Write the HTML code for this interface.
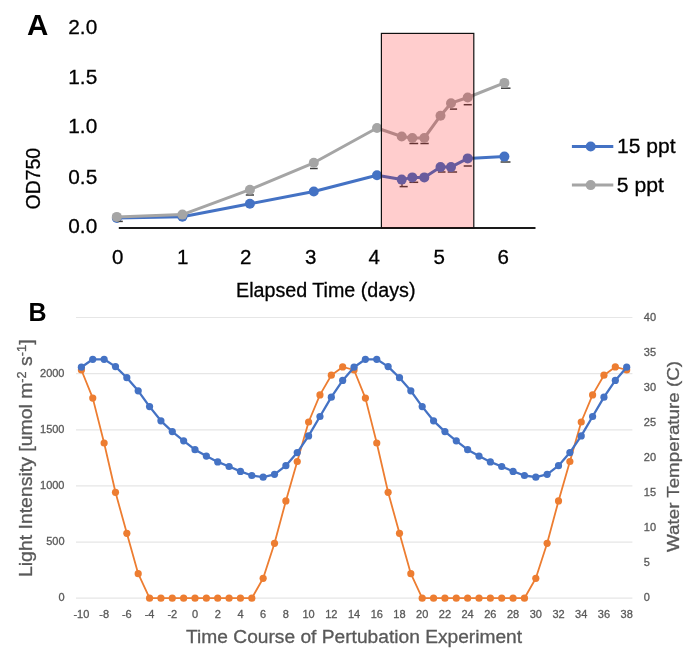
<!DOCTYPE html>
<html><head><meta charset="utf-8"><style>
html,body{margin:0;padding:0;background:#fff;width:685px;height:658px;overflow:hidden;}
svg{display:block;will-change:transform;font-family:"Liberation Sans", sans-serif;}
</style></head><body>
<svg width="685" height="658" viewBox="0 0 685 658" font-family='"Liberation Sans", sans-serif'><text x="27.0" y="34.6" font-size="29.5" text-anchor="start" fill="#000" font-weight="bold">A</text>
<text x="68.3" y="33.9" font-size="20.8" text-anchor="start" fill="#000" font-weight="normal" stroke="#000" stroke-width="0.3">2.0</text>
<text x="68.3" y="83.8" font-size="20.8" text-anchor="start" fill="#000" font-weight="normal" stroke="#000" stroke-width="0.3">1.5</text>
<text x="68.3" y="133.0" font-size="20.8" text-anchor="start" fill="#000" font-weight="normal" stroke="#000" stroke-width="0.3">1.0</text>
<text x="68.3" y="184.3" font-size="20.8" text-anchor="start" fill="#000" font-weight="normal" stroke="#000" stroke-width="0.3">0.5</text>
<text x="68.3" y="233.2" font-size="20.8" text-anchor="start" fill="#000" font-weight="normal" stroke="#000" stroke-width="0.3">0.0</text>
<text transform="translate(40,178.7) rotate(-90)" x="0" y="0" font-size="20" text-anchor="middle" stroke="#000" stroke-width="0.3" textLength="61.5" lengthAdjust="spacingAndGlyphs">OD750</text>
<text x="117.8" y="263.8" font-size="20.5" text-anchor="middle" fill="#000" font-weight="normal" stroke="#000" stroke-width="0.3">0</text>
<text x="182.6" y="263.8" font-size="20.5" text-anchor="middle" fill="#000" font-weight="normal" stroke="#000" stroke-width="0.3">1</text>
<text x="245.8" y="263.8" font-size="20.5" text-anchor="middle" fill="#000" font-weight="normal" stroke="#000" stroke-width="0.3">2</text>
<text x="310.7" y="263.8" font-size="20.5" text-anchor="middle" fill="#000" font-weight="normal" stroke="#000" stroke-width="0.3">3</text>
<text x="374.1" y="263.8" font-size="20.5" text-anchor="middle" fill="#000" font-weight="normal" stroke="#000" stroke-width="0.3">4</text>
<text x="439.2" y="263.8" font-size="20.5" text-anchor="middle" fill="#000" font-weight="normal" stroke="#000" stroke-width="0.3">5</text>
<text x="503.2" y="263.8" font-size="20.5" text-anchor="middle" fill="#000" font-weight="normal" stroke="#000" stroke-width="0.3">6</text>
<text x="236.0" y="296.9" font-size="20" text-anchor="start" fill="#000" font-weight="normal" textLength="179.5" lengthAdjust="spacingAndGlyphs" stroke="#000" stroke-width="0.3">Elapsed Time (days)</text>
<line x1="118.8" y1="227.9" x2="535.5" y2="227.9" stroke="#1a1a1a" stroke-width="2"/>
<line x1="399.6" y1="186.6" x2="407.7" y2="186.6" stroke="#404040" stroke-width="1.5"/>
<line x1="409.4" y1="182.3" x2="418.2" y2="182.3" stroke="#404040" stroke-width="1.5"/>
<line x1="437.9" y1="172" x2="445.5" y2="172" stroke="#404040" stroke-width="1.5"/>
<line x1="447.7" y1="172" x2="457.1" y2="172" stroke="#404040" stroke-width="1.5"/>
<line x1="463.7" y1="166" x2="471.8" y2="166" stroke="#404040" stroke-width="1.5"/>
<line x1="500.6" y1="162" x2="510.5" y2="162" stroke="#404040" stroke-width="1.5"/>
<line x1="402" y1="180" x2="402" y2="186.6" stroke="#404040" stroke-width="1.3"/>
<polyline points="116.8,218.0 182.4,216.8 249.9,203.7 313.8,191.5 377,175.2 401.7,179.6 412.3,177.4 424.3,177.4 440.5,167.1 451,167.1 467.7,158.4 504.4,156.6" fill="none" stroke="#4472C4" stroke-width="3" stroke-linejoin="round"/>
<circle cx="116.8" cy="218.0" r="5" fill="#4472C4"/>
<circle cx="182.4" cy="216.8" r="5" fill="#4472C4"/>
<circle cx="249.9" cy="203.7" r="5" fill="#4472C4"/>
<circle cx="313.8" cy="191.5" r="5" fill="#4472C4"/>
<circle cx="377" cy="175.2" r="5" fill="#4472C4"/>
<circle cx="401.7" cy="179.6" r="5" fill="#4472C4"/>
<circle cx="412.3" cy="177.4" r="5" fill="#4472C4"/>
<circle cx="424.3" cy="177.4" r="5" fill="#4472C4"/>
<circle cx="440.5" cy="167.1" r="5" fill="#4472C4"/>
<circle cx="451" cy="167.1" r="5" fill="#4472C4"/>
<circle cx="467.7" cy="158.4" r="5" fill="#4472C4"/>
<circle cx="504.4" cy="156.6" r="5" fill="#4472C4"/>
<line x1="116.9" y1="221.4" x2="122.8" y2="221.4" stroke="#404040" stroke-width="1.5"/>
<line x1="245.8" y1="195" x2="254" y2="195" stroke="#404040" stroke-width="1.5"/>
<line x1="310" y1="168.5" x2="317.7" y2="168.5" stroke="#404040" stroke-width="1.5"/>
<line x1="409.4" y1="143.5" x2="418.2" y2="143.5" stroke="#404040" stroke-width="1.5"/>
<line x1="420.4" y1="143.5" x2="428.7" y2="143.5" stroke="#404040" stroke-width="1.5"/>
<line x1="449.9" y1="109.1" x2="457.1" y2="109.1" stroke="#404040" stroke-width="1.5"/>
<line x1="463.7" y1="104.7" x2="471.8" y2="104.7" stroke="#404040" stroke-width="1.5"/>
<line x1="501" y1="88.2" x2="510.5" y2="88.2" stroke="#404040" stroke-width="1.5"/>
<polyline points="116.8,216.9 182.4,214.6 249.9,189.7 313.8,162.8 377,128 401.7,136.5 412.3,138 424.3,138 440.5,115.7 451,103.2 467.7,97.5 504.4,82.9" fill="none" stroke="#A5A5A5" stroke-width="3" stroke-linejoin="round"/>
<circle cx="116.8" cy="216.9" r="5" fill="#A5A5A5"/>
<circle cx="182.4" cy="214.6" r="5" fill="#A5A5A5"/>
<circle cx="249.9" cy="189.7" r="5" fill="#A5A5A5"/>
<circle cx="313.8" cy="162.8" r="5" fill="#A5A5A5"/>
<circle cx="377" cy="128" r="5" fill="#A5A5A5"/>
<circle cx="401.7" cy="136.5" r="5" fill="#A5A5A5"/>
<circle cx="412.3" cy="138" r="5" fill="#A5A5A5"/>
<circle cx="424.3" cy="138" r="5" fill="#A5A5A5"/>
<circle cx="440.5" cy="115.7" r="5" fill="#A5A5A5"/>
<circle cx="451" cy="103.2" r="5" fill="#A5A5A5"/>
<circle cx="467.7" cy="97.5" r="5" fill="#A5A5A5"/>
<circle cx="504.4" cy="82.9" r="5" fill="#A5A5A5"/>
<rect x="381.4" y="33.4" width="92.4" height="194.5" fill="rgba(255,0,0,0.195)" stroke="#111" stroke-width="1.2"/>
<line x1="571.9" y1="146.5" x2="613.3" y2="146.5" stroke="#4472C4" stroke-width="3"/>
<circle cx="590.7" cy="146.5" r="5" fill="#4472C4"/>
<line x1="571.9" y1="185.1" x2="613.3" y2="185.1" stroke="#A5A5A5" stroke-width="3"/>
<circle cx="590.7" cy="185.1" r="5" fill="#A5A5A5"/>
<text x="617.0" y="153.4" font-size="20" text-anchor="start" fill="#000" font-weight="normal" textLength="58.5" lengthAdjust="spacingAndGlyphs" stroke="#000" stroke-width="0.3">15 ppt</text>
<text x="616.8" y="191.5" font-size="20" text-anchor="start" fill="#000" font-weight="normal" textLength="47" lengthAdjust="spacingAndGlyphs" stroke="#000" stroke-width="0.3">5 ppt</text>
<text x="28.6" y="321.2" font-size="25" text-anchor="start" fill="#000" font-weight="bold">B</text>
<line x1="76" y1="317.50" x2="632.4" y2="317.50" stroke="#e6e6e6" stroke-width="1.2"/>
<line x1="76" y1="373.64" x2="632.4" y2="373.64" stroke="#e6e6e6" stroke-width="1.2"/>
<line x1="76" y1="429.78" x2="632.4" y2="429.78" stroke="#e6e6e6" stroke-width="1.2"/>
<line x1="76" y1="485.92" x2="632.4" y2="485.92" stroke="#e6e6e6" stroke-width="1.2"/>
<line x1="76" y1="542.06" x2="632.4" y2="542.06" stroke="#e6e6e6" stroke-width="1.2"/>
<line x1="76" y1="598.20" x2="632.4" y2="598.20" stroke="#e6e6e6" stroke-width="1.2"/>
<text x="64.5" y="376.64" font-size="11" text-anchor="end" fill="#595959" font-weight="normal" stroke="#595959" stroke-width="0.3">2000</text>
<text x="64.5" y="432.78" font-size="11" text-anchor="end" fill="#595959" font-weight="normal" stroke="#595959" stroke-width="0.3">1500</text>
<text x="64.5" y="488.92" font-size="11" text-anchor="end" fill="#595959" font-weight="normal" stroke="#595959" stroke-width="0.3">1000</text>
<text x="64.5" y="545.06" font-size="11" text-anchor="end" fill="#595959" font-weight="normal" stroke="#595959" stroke-width="0.3">500</text>
<text x="64.5" y="601.2" font-size="11" text-anchor="end" fill="#595959" font-weight="normal" stroke="#595959" stroke-width="0.3">0</text>
<text x="643.8" y="320.6" font-size="11" text-anchor="start" fill="#595959" font-weight="normal" stroke="#595959" stroke-width="0.3">40</text>
<text x="643.8" y="355.69000000000005" font-size="11" text-anchor="start" fill="#595959" font-weight="normal" stroke="#595959" stroke-width="0.3">35</text>
<text x="643.8" y="390.78000000000003" font-size="11" text-anchor="start" fill="#595959" font-weight="normal" stroke="#595959" stroke-width="0.3">30</text>
<text x="643.8" y="425.87" font-size="11" text-anchor="start" fill="#595959" font-weight="normal" stroke="#595959" stroke-width="0.3">25</text>
<text x="643.8" y="460.96000000000004" font-size="11" text-anchor="start" fill="#595959" font-weight="normal" stroke="#595959" stroke-width="0.3">20</text>
<text x="643.8" y="496.05000000000007" font-size="11" text-anchor="start" fill="#595959" font-weight="normal" stroke="#595959" stroke-width="0.3">15</text>
<text x="643.8" y="531.14" font-size="11" text-anchor="start" fill="#595959" font-weight="normal" stroke="#595959" stroke-width="0.3">10</text>
<text x="643.8" y="566.23" font-size="11" text-anchor="start" fill="#595959" font-weight="normal" stroke="#595959" stroke-width="0.3">5</text>
<text x="643.8" y="601.32" font-size="11" text-anchor="start" fill="#595959" font-weight="normal" stroke="#595959" stroke-width="0.3">0</text>
<text x="81.4" y="617.5" font-size="11" text-anchor="middle" fill="#595959" font-weight="normal" stroke="#595959" stroke-width="0.3">-10</text>
<text x="104.12" y="617.5" font-size="11" text-anchor="middle" fill="#595959" font-weight="normal" stroke="#595959" stroke-width="0.3">-8</text>
<text x="126.84" y="617.5" font-size="11" text-anchor="middle" fill="#595959" font-weight="normal" stroke="#595959" stroke-width="0.3">-6</text>
<text x="149.56" y="617.5" font-size="11" text-anchor="middle" fill="#595959" font-weight="normal" stroke="#595959" stroke-width="0.3">-4</text>
<text x="172.28" y="617.5" font-size="11" text-anchor="middle" fill="#595959" font-weight="normal" stroke="#595959" stroke-width="0.3">-2</text>
<text x="195.0" y="617.5" font-size="11" text-anchor="middle" fill="#595959" font-weight="normal" stroke="#595959" stroke-width="0.3">0</text>
<text x="217.72" y="617.5" font-size="11" text-anchor="middle" fill="#595959" font-weight="normal" stroke="#595959" stroke-width="0.3">2</text>
<text x="240.44" y="617.5" font-size="11" text-anchor="middle" fill="#595959" font-weight="normal" stroke="#595959" stroke-width="0.3">4</text>
<text x="263.16" y="617.5" font-size="11" text-anchor="middle" fill="#595959" font-weight="normal" stroke="#595959" stroke-width="0.3">6</text>
<text x="285.88" y="617.5" font-size="11" text-anchor="middle" fill="#595959" font-weight="normal" stroke="#595959" stroke-width="0.3">8</text>
<text x="308.6" y="617.5" font-size="11" text-anchor="middle" fill="#595959" font-weight="normal" stroke="#595959" stroke-width="0.3">10</text>
<text x="331.32" y="617.5" font-size="11" text-anchor="middle" fill="#595959" font-weight="normal" stroke="#595959" stroke-width="0.3">12</text>
<text x="354.04" y="617.5" font-size="11" text-anchor="middle" fill="#595959" font-weight="normal" stroke="#595959" stroke-width="0.3">14</text>
<text x="376.76" y="617.5" font-size="11" text-anchor="middle" fill="#595959" font-weight="normal" stroke="#595959" stroke-width="0.3">16</text>
<text x="399.48" y="617.5" font-size="11" text-anchor="middle" fill="#595959" font-weight="normal" stroke="#595959" stroke-width="0.3">18</text>
<text x="422.2" y="617.5" font-size="11" text-anchor="middle" fill="#595959" font-weight="normal" stroke="#595959" stroke-width="0.3">20</text>
<text x="444.92" y="617.5" font-size="11" text-anchor="middle" fill="#595959" font-weight="normal" stroke="#595959" stroke-width="0.3">22</text>
<text x="467.64" y="617.5" font-size="11" text-anchor="middle" fill="#595959" font-weight="normal" stroke="#595959" stroke-width="0.3">24</text>
<text x="490.36" y="617.5" font-size="11" text-anchor="middle" fill="#595959" font-weight="normal" stroke="#595959" stroke-width="0.3">26</text>
<text x="513.08" y="617.5" font-size="11" text-anchor="middle" fill="#595959" font-weight="normal" stroke="#595959" stroke-width="0.3">28</text>
<text x="535.8" y="617.5" font-size="11" text-anchor="middle" fill="#595959" font-weight="normal" stroke="#595959" stroke-width="0.3">30</text>
<text x="558.52" y="617.5" font-size="11" text-anchor="middle" fill="#595959" font-weight="normal" stroke="#595959" stroke-width="0.3">32</text>
<text x="581.24" y="617.5" font-size="11" text-anchor="middle" fill="#595959" font-weight="normal" stroke="#595959" stroke-width="0.3">34</text>
<text x="603.96" y="617.5" font-size="11" text-anchor="middle" fill="#595959" font-weight="normal" stroke="#595959" stroke-width="0.3">36</text>
<text x="626.68" y="617.5" font-size="11" text-anchor="middle" fill="#595959" font-weight="normal" stroke="#595959" stroke-width="0.3">38</text>
<text x="186.1" y="643.1" font-size="18" text-anchor="start" fill="#595959" font-weight="normal" textLength="336" lengthAdjust="spacingAndGlyphs" stroke="#595959" stroke-width="0.3">Time Course of Pertubation Experiment</text>
<text transform="translate(32.3,577) rotate(-90)" x="0" y="0" font-size="19" fill="#595959" stroke="#595959" stroke-width="0.3" textLength="237.6" lengthAdjust="spacingAndGlyphs">Light Intensity [umol m<tspan dy="-6.3" font-size="12.5">-2</tspan><tspan dy="6.3"> s</tspan><tspan dy="-6.3" font-size="12.5">-1</tspan><tspan dy="6.3">]</tspan></text>
<text transform="translate(679.2,552) rotate(-90)" x="0" y="0" font-size="16" fill="#595959" stroke="#595959" stroke-width="0.3" textLength="191" lengthAdjust="spacingAndGlyphs">Water Temperature (C)</text>
<polyline points="81.4,370 92.76,398.1 104.12,443 115.48,492.3 126.84,533.3 138.2,573.7 149.56,598.2 160.92,598.2 172.28,598.2 183.64,598.2 195.0,598.2 206.36,598.2 217.72,598.2 229.08,598.2 240.44,598.2 251.8,598.2 263.16,578.3 274.52,543.3 285.88,500.9 297.24,461.5 308.6,422 319.96,394.9 331.32,375.2 342.68,366.9 354.04,370 365.4,398.1 376.76,443 388.12,492.3 399.48,533.3 410.84,573.7 422.2,598.2 433.56,598.2 444.92,598.2 456.28,598.2 467.64,598.2 479.0,598.2 490.36,598.2 501.72,598.2 513.08,598.2 524.44,598.2 535.8,578.3 547.16,543.3 558.52,500.9 569.88,461.5 581.24,422 592.6,394.9 603.96,375.2 615.32,366.9 626.68,370" fill="none" stroke="#ED7D31" stroke-width="1.8" stroke-linejoin="round"/>
<circle cx="81.4" cy="370" r="3.6" fill="#ED7D31"/>
<circle cx="92.76" cy="398.1" r="3.6" fill="#ED7D31"/>
<circle cx="104.12" cy="443" r="3.6" fill="#ED7D31"/>
<circle cx="115.48" cy="492.3" r="3.6" fill="#ED7D31"/>
<circle cx="126.84" cy="533.3" r="3.6" fill="#ED7D31"/>
<circle cx="138.2" cy="573.7" r="3.6" fill="#ED7D31"/>
<circle cx="149.56" cy="598.2" r="3.6" fill="#ED7D31"/>
<circle cx="160.92" cy="598.2" r="3.6" fill="#ED7D31"/>
<circle cx="172.28" cy="598.2" r="3.6" fill="#ED7D31"/>
<circle cx="183.64" cy="598.2" r="3.6" fill="#ED7D31"/>
<circle cx="195.0" cy="598.2" r="3.6" fill="#ED7D31"/>
<circle cx="206.36" cy="598.2" r="3.6" fill="#ED7D31"/>
<circle cx="217.72" cy="598.2" r="3.6" fill="#ED7D31"/>
<circle cx="229.08" cy="598.2" r="3.6" fill="#ED7D31"/>
<circle cx="240.44" cy="598.2" r="3.6" fill="#ED7D31"/>
<circle cx="251.8" cy="598.2" r="3.6" fill="#ED7D31"/>
<circle cx="263.16" cy="578.3" r="3.6" fill="#ED7D31"/>
<circle cx="274.52" cy="543.3" r="3.6" fill="#ED7D31"/>
<circle cx="285.88" cy="500.9" r="3.6" fill="#ED7D31"/>
<circle cx="297.24" cy="461.5" r="3.6" fill="#ED7D31"/>
<circle cx="308.6" cy="422" r="3.6" fill="#ED7D31"/>
<circle cx="319.96" cy="394.9" r="3.6" fill="#ED7D31"/>
<circle cx="331.32" cy="375.2" r="3.6" fill="#ED7D31"/>
<circle cx="342.68" cy="366.9" r="3.6" fill="#ED7D31"/>
<circle cx="354.04" cy="370" r="3.6" fill="#ED7D31"/>
<circle cx="365.4" cy="398.1" r="3.6" fill="#ED7D31"/>
<circle cx="376.76" cy="443" r="3.6" fill="#ED7D31"/>
<circle cx="388.12" cy="492.3" r="3.6" fill="#ED7D31"/>
<circle cx="399.48" cy="533.3" r="3.6" fill="#ED7D31"/>
<circle cx="410.84" cy="573.7" r="3.6" fill="#ED7D31"/>
<circle cx="422.2" cy="598.2" r="3.6" fill="#ED7D31"/>
<circle cx="433.56" cy="598.2" r="3.6" fill="#ED7D31"/>
<circle cx="444.92" cy="598.2" r="3.6" fill="#ED7D31"/>
<circle cx="456.28" cy="598.2" r="3.6" fill="#ED7D31"/>
<circle cx="467.64" cy="598.2" r="3.6" fill="#ED7D31"/>
<circle cx="479.0" cy="598.2" r="3.6" fill="#ED7D31"/>
<circle cx="490.36" cy="598.2" r="3.6" fill="#ED7D31"/>
<circle cx="501.72" cy="598.2" r="3.6" fill="#ED7D31"/>
<circle cx="513.08" cy="598.2" r="3.6" fill="#ED7D31"/>
<circle cx="524.44" cy="598.2" r="3.6" fill="#ED7D31"/>
<circle cx="535.8" cy="578.3" r="3.6" fill="#ED7D31"/>
<circle cx="547.16" cy="543.3" r="3.6" fill="#ED7D31"/>
<circle cx="558.52" cy="500.9" r="3.6" fill="#ED7D31"/>
<circle cx="569.88" cy="461.5" r="3.6" fill="#ED7D31"/>
<circle cx="581.24" cy="422" r="3.6" fill="#ED7D31"/>
<circle cx="592.6" cy="394.9" r="3.6" fill="#ED7D31"/>
<circle cx="603.96" cy="375.2" r="3.6" fill="#ED7D31"/>
<circle cx="615.32" cy="366.9" r="3.6" fill="#ED7D31"/>
<circle cx="626.68" cy="370" r="3.6" fill="#ED7D31"/>
<polyline points="81.4,367.2 92.76,359.3 104.12,359.3 115.48,366.6 126.84,377.7 138.2,390.8 149.56,406.6 160.92,420.8 172.28,431.6 183.64,440.8 195.0,449.7 206.36,456.1 217.72,461.9 229.08,466.5 240.44,471.4 251.8,475.5 263.16,477.2 274.52,474.3 285.88,465.7 297.24,452.6 308.6,435.9 319.96,416.5 331.32,397.2 342.68,380.4 354.04,367.2 365.4,359.3 376.76,359.3 388.12,366.6 399.48,377.7 410.84,390.8 422.2,406.6 433.56,420.8 444.92,431.6 456.28,440.8 467.64,449.7 479.0,456.1 490.36,461.9 501.72,466.5 513.08,471.4 524.44,475.5 535.8,477.2 547.16,474.3 558.52,465.7 569.88,452.6 581.24,435.9 592.6,416.5 603.96,397.2 615.32,380.4 626.68,367.2" fill="none" stroke="#4472C4" stroke-width="2.3" stroke-linejoin="round"/>
<circle cx="81.4" cy="367.2" r="3.6" fill="#4472C4"/>
<circle cx="92.76" cy="359.3" r="3.6" fill="#4472C4"/>
<circle cx="104.12" cy="359.3" r="3.6" fill="#4472C4"/>
<circle cx="115.48" cy="366.6" r="3.6" fill="#4472C4"/>
<circle cx="126.84" cy="377.7" r="3.6" fill="#4472C4"/>
<circle cx="138.2" cy="390.8" r="3.6" fill="#4472C4"/>
<circle cx="149.56" cy="406.6" r="3.6" fill="#4472C4"/>
<circle cx="160.92" cy="420.8" r="3.6" fill="#4472C4"/>
<circle cx="172.28" cy="431.6" r="3.6" fill="#4472C4"/>
<circle cx="183.64" cy="440.8" r="3.6" fill="#4472C4"/>
<circle cx="195.0" cy="449.7" r="3.6" fill="#4472C4"/>
<circle cx="206.36" cy="456.1" r="3.6" fill="#4472C4"/>
<circle cx="217.72" cy="461.9" r="3.6" fill="#4472C4"/>
<circle cx="229.08" cy="466.5" r="3.6" fill="#4472C4"/>
<circle cx="240.44" cy="471.4" r="3.6" fill="#4472C4"/>
<circle cx="251.8" cy="475.5" r="3.6" fill="#4472C4"/>
<circle cx="263.16" cy="477.2" r="3.6" fill="#4472C4"/>
<circle cx="274.52" cy="474.3" r="3.6" fill="#4472C4"/>
<circle cx="285.88" cy="465.7" r="3.6" fill="#4472C4"/>
<circle cx="297.24" cy="452.6" r="3.6" fill="#4472C4"/>
<circle cx="308.6" cy="435.9" r="3.6" fill="#4472C4"/>
<circle cx="319.96" cy="416.5" r="3.6" fill="#4472C4"/>
<circle cx="331.32" cy="397.2" r="3.6" fill="#4472C4"/>
<circle cx="342.68" cy="380.4" r="3.6" fill="#4472C4"/>
<circle cx="354.04" cy="367.2" r="3.6" fill="#4472C4"/>
<circle cx="365.4" cy="359.3" r="3.6" fill="#4472C4"/>
<circle cx="376.76" cy="359.3" r="3.6" fill="#4472C4"/>
<circle cx="388.12" cy="366.6" r="3.6" fill="#4472C4"/>
<circle cx="399.48" cy="377.7" r="3.6" fill="#4472C4"/>
<circle cx="410.84" cy="390.8" r="3.6" fill="#4472C4"/>
<circle cx="422.2" cy="406.6" r="3.6" fill="#4472C4"/>
<circle cx="433.56" cy="420.8" r="3.6" fill="#4472C4"/>
<circle cx="444.92" cy="431.6" r="3.6" fill="#4472C4"/>
<circle cx="456.28" cy="440.8" r="3.6" fill="#4472C4"/>
<circle cx="467.64" cy="449.7" r="3.6" fill="#4472C4"/>
<circle cx="479.0" cy="456.1" r="3.6" fill="#4472C4"/>
<circle cx="490.36" cy="461.9" r="3.6" fill="#4472C4"/>
<circle cx="501.72" cy="466.5" r="3.6" fill="#4472C4"/>
<circle cx="513.08" cy="471.4" r="3.6" fill="#4472C4"/>
<circle cx="524.44" cy="475.5" r="3.6" fill="#4472C4"/>
<circle cx="535.8" cy="477.2" r="3.6" fill="#4472C4"/>
<circle cx="547.16" cy="474.3" r="3.6" fill="#4472C4"/>
<circle cx="558.52" cy="465.7" r="3.6" fill="#4472C4"/>
<circle cx="569.88" cy="452.6" r="3.6" fill="#4472C4"/>
<circle cx="581.24" cy="435.9" r="3.6" fill="#4472C4"/>
<circle cx="592.6" cy="416.5" r="3.6" fill="#4472C4"/>
<circle cx="603.96" cy="397.2" r="3.6" fill="#4472C4"/>
<circle cx="615.32" cy="380.4" r="3.6" fill="#4472C4"/>
<circle cx="626.68" cy="367.2" r="3.6" fill="#4472C4"/></svg>
</body></html>
